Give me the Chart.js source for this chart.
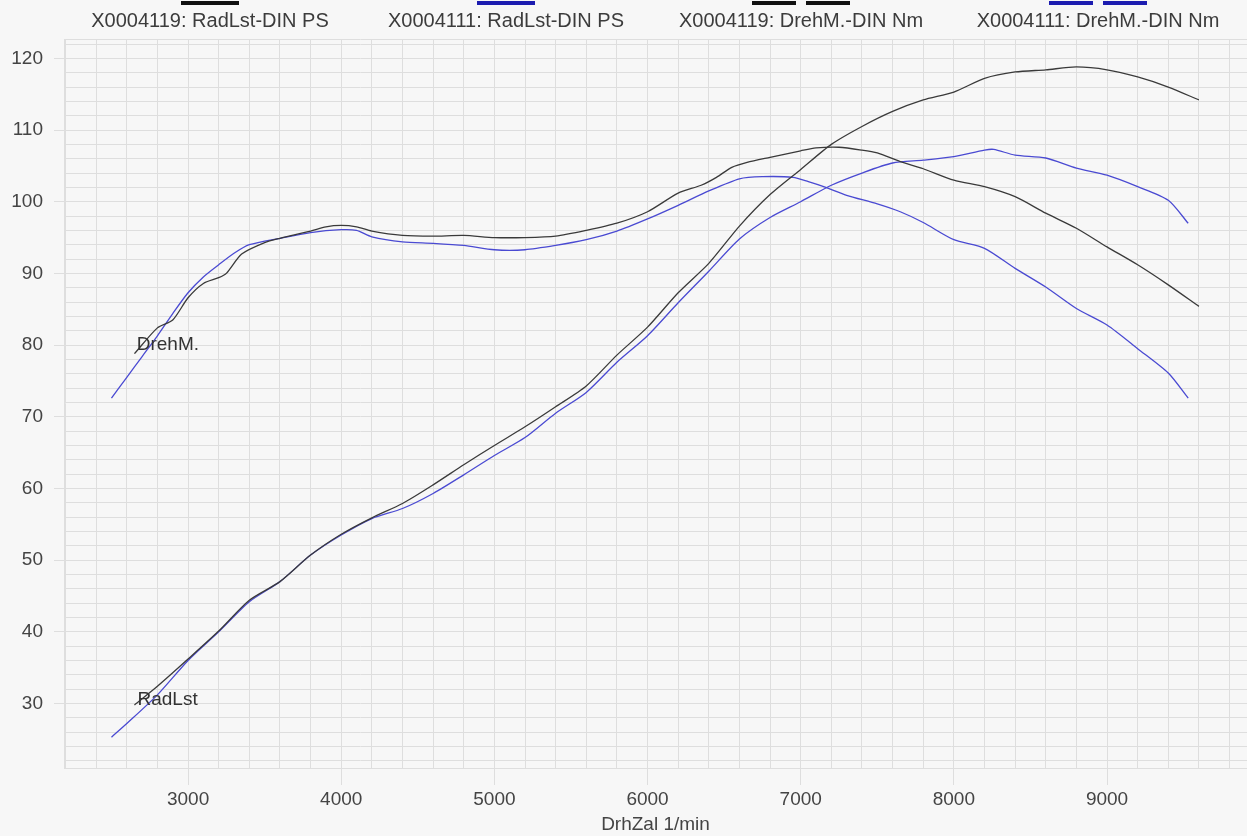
<!DOCTYPE html>
<html lang="de">
<head>
<meta charset="UTF-8">
<title>RadLst / DrehM.</title>
<style>
  html, body { margin: 0; padding: 0; background: #f7f7f7; }
  #wrap { width: 1247px; height: 836px; }
</style>
</head>
<body>
<div id="wrap"><canvas id="chart" width="1247" height="836"></canvas></div>
<script src="https://cdn.jsdelivr.net/npm/chart.js"></script>
<script>
const rpmPs4119 = [2650, 2800, 3000, 3200, 3400, 3600, 3800, 4000, 4200, 4400, 4600, 4800, 5000, 5200, 5400, 5600, 5800, 6000, 6200, 6400, 6600, 6800, 7000, 7200, 7400, 7600, 7800, 8000, 8200, 8400, 8600, 8800, 9000, 9200, 9400, 9600];
const ps4119 = [29.8, 32.4, 36.2, 40.1, 44.4, 47.0, 50.7, 53.6, 55.9, 57.9, 60.5, 63.3, 66.0, 68.6, 71.4, 74.3, 78.6, 82.5, 87.3, 91.4, 96.6, 101.0, 104.5, 108.0, 110.5, 112.6, 114.2, 115.3, 117.2, 118.1, 118.4, 118.8, 118.4, 117.4, 116.0, 114.2];

const rpmPs4111 = [2500, 2600, 2800, 3000, 3200, 3400, 3600, 3800, 4000, 4200, 4400, 4600, 4800, 5000, 5200, 5400, 5600, 5800, 6000, 6200, 6400, 6600, 6800, 7000, 7200, 7400, 7600, 7800, 8000, 8200, 8260, 8400, 8600, 8800, 9000, 9200, 9400, 9530];
const ps4111 = [25.3, 27.2, 31.2, 36.0, 40.0, 44.2, 47.0, 50.7, 53.5, 55.8, 57.2, 59.3, 61.9, 64.6, 67.1, 70.5, 73.4, 77.6, 81.3, 85.9, 90.3, 94.8, 97.8, 100.0, 102.3, 104.0, 105.4, 105.8, 106.3, 107.2, 107.3, 106.5, 106.1, 104.7, 103.7, 102.1, 100.2, 97.0];

const rpmNm4119 = [2650, 2800, 2900, 3000, 3100, 3200, 3250, 3350, 3500, 3600, 3800, 3900, 4000, 4100, 4200, 4400, 4600, 4800, 5000, 5200, 5400, 5600, 5800, 6000, 6200, 6350, 6450, 6550, 6650, 6800, 7000, 7100, 7250, 7400, 7500, 7650, 7800, 8000, 8200, 8400, 8600, 8800, 9000, 9200, 9400, 9600];
const nm4119 = [78.8, 82.4, 83.5, 86.6, 88.6, 89.4, 90.0, 92.7, 94.3, 94.9, 95.9, 96.5, 96.7, 96.5, 95.9, 95.3, 95.2, 95.3, 95.0, 95.0, 95.2, 96.0, 97.0, 98.6, 101.2, 102.3, 103.4, 104.8, 105.5, 106.2, 107.1, 107.5, 107.6, 107.2, 106.8, 105.6, 104.6, 103.0, 102.1, 100.7, 98.4, 96.3, 93.7, 91.2, 88.4, 85.4];

const rpmNm4111 = [2500, 2600, 2700, 2800, 2900, 3000, 3100, 3200, 3300, 3400, 3600, 3800, 4000, 4100, 4200, 4400, 4600, 4800, 5000, 5200, 5400, 5600, 5800, 6000, 6200, 6400, 6600, 6750, 6950, 7050, 7150, 7300, 7500, 7650, 7800, 8000, 8200, 8400, 8600, 8800, 9000, 9200, 9400, 9530];
const nm4111 = [72.6, 75.5, 78.4, 81.3, 84.4, 87.3, 89.5, 91.2, 92.8, 94.0, 94.9, 95.7, 96.1, 96.0, 95.1, 94.4, 94.2, 93.9, 93.3, 93.3, 93.9, 94.7, 95.9, 97.6, 99.5, 101.5, 103.2, 103.5, 103.4, 102.8, 102.1, 100.9, 99.7, 98.6, 97.1, 94.7, 93.5, 90.7, 88.1, 85.1, 82.8, 79.5, 76.1, 72.6];

const seriesNames = ['X0004119: RadLst-DIN PS', 'X0004111: RadLst-DIN PS', 'X0004119: DrehM.-DIN Nm', 'X0004111: DrehM.-DIN Nm'];
const xLabels = [3000, 4000, 5000, 6000, 7000, 8000, 9000];
const yLabels = [30, 40, 50, 60, 70, 80, 90, 100, 110, 120];

const FONT = 'Arial, "Liberation Sans", sans-serif';
const BLACK = '#3a3a3a';
const BLUE = '#4a4ad2';
const GRID = '#dedede';

function pts(xs, ys) {
    return xs.map((x, i) => ({ x: x, y: ys[i] }));
}

// Kopfzeile mit Linienmustern ueber dem Text
const legendPlugin = {
    id: 'topLegend',
    afterDraw(chart) {
        const ctx = chart.ctx;
        const items = [
            { x: 210, color: '#111111', dashed: false },
            { x: 506, color: '#1c1cb0', dashed: false },
            { x: 801, color: '#111111', dashed: true },
            { x: 1098, color: '#1c1cb0', dashed: true }
        ];
        ctx.save();
        ctx.font = '20px ' + FONT;
        ctx.fillStyle = '#3c3c3c';
        ctx.textAlign = 'center';
        ctx.textBaseline = 'middle';
        items.forEach((it, i) => {
            ctx.fillText(seriesNames[i], it.x, 21);
            ctx.strokeStyle = it.color;
            ctx.lineWidth = 4;
            ctx.beginPath();
            if (it.dashed) {
                ctx.moveTo(it.x - 49, 3); ctx.lineTo(it.x - 5, 3);
                ctx.moveTo(it.x + 5, 3); ctx.lineTo(it.x + 49, 3);
            } else {
                ctx.moveTo(it.x - 29, 3); ctx.lineTo(it.x + 29, 3);
            }
            ctx.stroke();
        });
        ctx.restore();
    }
};

// Kurvenbeschriftung im Diagramm
const curveLabels = [
    { text: 'DrehM.', x: 2665, y: 80.1 },
    { text: 'RadLst', x: 2670, y: 30.5 }
];
const curveLabelPlugin = {
    id: 'curveLabels',
    afterDatasetsDraw(chart) {
        const ctx = chart.ctx;
        const xs = chart.scales.x, ys = chart.scales.y;
        ctx.save();
        ctx.font = '19px ' + FONT;
        ctx.fillStyle = '#333333';
        ctx.textAlign = 'left';
        ctx.textBaseline = 'middle';
        curveLabels.forEach(l => {
            ctx.fillText(l.text, xs.getPixelForValue(l.x), ys.getPixelForValue(l.y));
        });
        ctx.restore();
    }
};

const ctx = document.getElementById('chart').getContext('2d');
new Chart(ctx, {
    type: 'line',
    data: {
        datasets: [
            { label: seriesNames[0], data: pts(rpmPs4119, ps4119), borderColor: BLACK },
            { label: seriesNames[2], data: pts(rpmNm4119, nm4119), borderColor: BLACK },
            { label: seriesNames[1], data: pts(rpmPs4111, ps4111), borderColor: BLUE },
            { label: seriesNames[3], data: pts(rpmNm4111, nm4111), borderColor: BLUE }
        ]
    },
    options: {
        responsive: false,
        animation: false,
        devicePixelRatio: 1,
        layout: { padding: { top: 39, right: 0, left: 0, bottom: 0 } },
        elements: {
            line: { borderWidth: 1.3, tension: 0.25, fill: false },
            point: { radius: 0 }
        },
        plugins: {
            legend: { display: false },
            tooltip: { enabled: false }
        },
        scales: {
            x: {
                type: 'linear',
                min: 2190,
                max: 9914,
                afterBuildTicks: s => {
                    const t = [];
                    for (let v = 2200; v <= 9800; v += 200) t.push({ value: v });
                    s.ticks = t;
                },
                afterFit: s => { s.height = 68; },
                ticks: {
                    autoSkip: false,
                    maxRotation: 0,
                    padding: 3,
                    color: '#444',
                    font: { size: 19, family: FONT },
                    callback: v => xLabels.includes(v) ? String(v) : ''
                },
                grid: {
                    color: GRID,
                    lineWidth: 1,
                    tickLength: 17,
                    tickColor: c => (c.tick && xLabels.includes(c.tick.value)) ? GRID : 'rgba(0,0,0,0)'
                },
                border: { color: GRID, width: 1 },
                title: {
                    display: true,
                    text: 'DrhZal 1/min',
                    color: '#444',
                    font: { size: 19, family: FONT },
                    padding: 0
                }
            },
            y: {
                min: 21.0,
                max: 122.7,
                afterBuildTicks: s => {
                    const t = [];
                    for (let v = 22; v <= 122; v += 2) t.push({ value: v });
                    t.push({ value: 122.7 });
                    s.ticks = t;
                },
                afterFit: s => { s.width = 64; },
                ticks: {
                    autoSkip: false,
                    padding: 11,
                    color: '#444',
                    font: { size: 19, family: FONT },
                    callback: v => yLabels.includes(v) ? String(v) : ''
                },
                grid: {
                    color: GRID,
                    lineWidth: 1,
                    tickLength: 10,
                    tickColor: c => (c.tick && yLabels.includes(c.tick.value)) ? GRID : 'rgba(0,0,0,0)'
                },
                border: { color: GRID, width: 1 }
            }
        }
    },
    plugins: [legendPlugin, curveLabelPlugin]
});
</script>
</body>
</html>
